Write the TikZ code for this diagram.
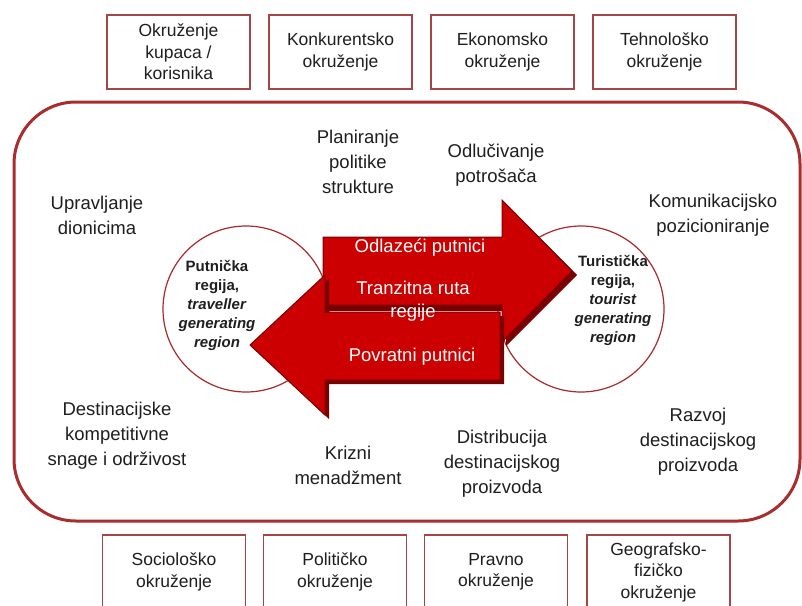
\documentclass[tikz,border=0pt]{standalone}
\usepackage{fontspec}
\setmainfont{Liberation Sans}
\definecolor{boxred}{RGB}{165,70,70}
\definecolor{framered}{RGB}{168,45,45}
\definecolor{arrred}{RGB}{204,0,0}
\definecolor{arrdark}{RGB}{120,0,0}
\definecolor{circred}{RGB}{170,40,40}
\definecolor{txt}{RGB}{30,30,30}
\begin{document}
\begin{tikzpicture}[x=1pt,y=-1pt,
  envbox/.style={draw=boxred,line width=1.6pt,minimum width=143pt,minimum height=74pt,inner sep=0pt,align=center,font=\fontsize{17.5}{21.5}\selectfont,text=txt},
  lbl/.style={align=center,inner sep=0pt,font=\fontsize{18.5}{25}\selectfont,text=txt},
  region/.style={circle,draw=circred,line width=1.2pt,minimum size=166pt,inner sep=0pt},
  regtext/.style={align=center,inner sep=0pt,font=\fontsize{15}{19}\selectfont\bfseries,text=txt},
  arrtext/.style={align=center,inner sep=0pt,font=\fontsize{18.5}{23}\selectfont,text=white},
  arrbody/.style={fill=arrred,draw=arrdark,line width=1pt,line join=miter},
  arrshade/.style={fill=arrdark}
]
\useasboundingbox (0,0) rectangle (802,605);

% outer frame
\node[draw=framered,line width=3pt,rounded corners=62pt,minimum width=786pt,minimum height=419pt,inner sep=0pt] (frame) at (407,311.5) {};

% top environment boxes
\node[envbox] (kupci) at (178.5,52) {Okruženje\\kupaca /\\korisnika};
\node[envbox] (konk) at (340.5,52) {Konkurentsko\\okruženje};
\node[envbox] (ekon) at (502.5,52) {Ekonomsko\\okruženje};
\node[envbox] (tehn) at (664.5,52) {Tehnološko\\okruženje};

% bottom environment boxes
\node[envbox] (soc) at (174,572) {Sociološko\\okruženje};
\node[envbox] (pol) at (335,572) {Političko\\okruženje};
\node[envbox] (prav) at (496,572) {Pravno\\okruženje};
\node[envbox] (geo) at (658.5,572) {Geografsko-\\fizičko\\okruženje};

% region circles
\node[region] (gen) at (246,309) {};
\node[region] (dest) at (581,309) {};
\node[regtext] (gentext) at (217,305) {Putnička\\regija,\\\textit{traveller}\\\textit{generating}\\\textit{region}};
\node[regtext] (desttext) at (613,300) {Turistička\\regija,\\\textit{tourist}\\\textit{generating}\\\textit{region}};

% arrows (shapes)
\fill[arrshade] (327,241) -- (506,241) -- (506,204) -- (577,275) -- (506,346) -- (506,311) -- (327,311) -- cycle;
\draw[arrbody] (323,237) -- (502,237) -- (502,200) -- (572,271) -- (502,342) -- (502,305) -- (323,305) -- cycle;
\fill[arrshade] (504,316) -- (329,316) -- (329,279) -- (255,349) -- (329,419) -- (329,384) -- (504,384) -- cycle;
\draw[arrbody] (500,312) -- (325,312) -- (325,275) -- (250,345) -- (325,415) -- (325,380) -- (500,380) -- cycle;

\node[arrtext] (odl) at (420,248) {Odlazeći putnici};
\node[arrtext] (tranz) at (413,301) {Tranzitna ruta\\regije};
\node[arrtext] (povr) at (412,357) {Povratni putnici};

% activity labels
\node[lbl] (uprav) at (97,215) {Upravljanje\\dionicima};
\node[lbl] (plan) at (358,162) {Planiranje\\politike\\strukture};
\node[lbl] (odluc) at (496,165) {Odlučivanje\\potrošača};
\node[lbl] (komun) at (713,215) {Komunikacijsko\\pozicioniranje};
\node[lbl] (destk) at (117,436) {Destinacijske\\kompetitivne\\snage i održivost};
\node[lbl] (kriz) at (348,465) {Krizni\\menadžment};
\node[lbl] (distr) at (502,464) {Distribucija\\destinacijskog\\proizvoda};
\node[lbl] (razv) at (698,442) {Razvoj\\destinacijskog\\proizvoda};
\end{tikzpicture}
\end{document}
